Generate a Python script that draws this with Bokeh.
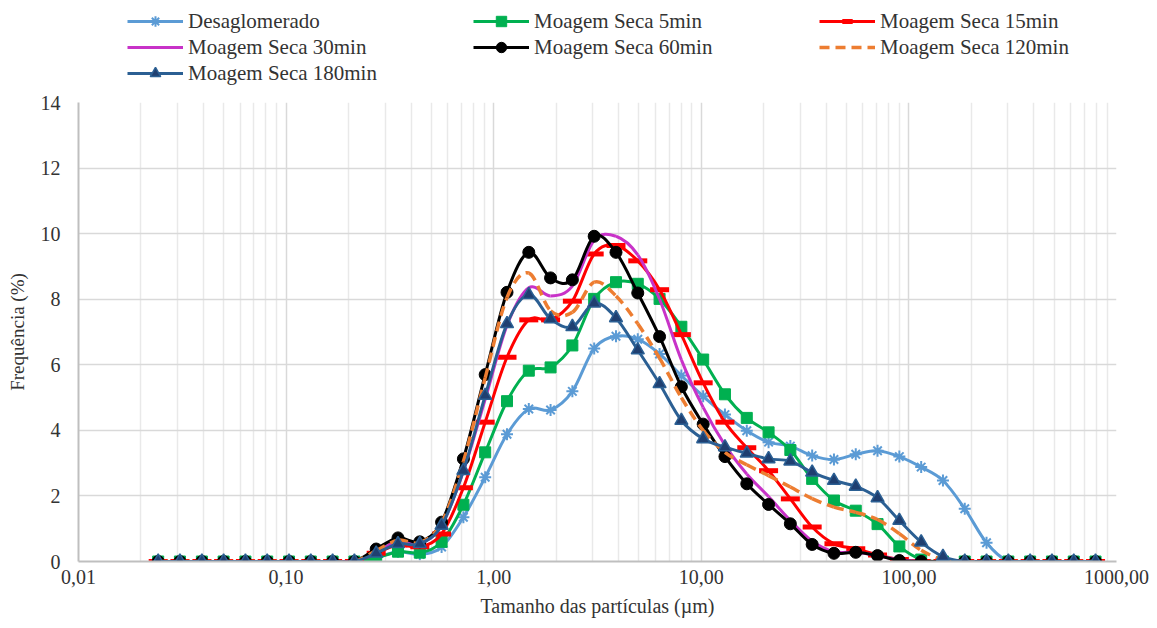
import numpy as np
from bokeh.plotting import figure
from bokeh.layouts import column
from bokeh.models import (Legend, LegendItem, FixedTicker, SingleIntervalTicker,
                          Range1d, CustomJSTickFormatter)
from bokeh.embed import file_html
from bokeh.resources import INLINE

# Particle size classes (µm)
sizes_um = [0.0242, 0.0308, 0.0393, 0.0500, 0.0637, 0.0811, 0.1033, 0.1315, 0.1675, 0.2133,
            0.2716, 0.3459, 0.4406, 0.5610, 0.7145, 0.9099, 1.159, 1.476, 1.879, 2.393,
            3.048, 3.882, 4.943, 6.295, 8.017, 10.21, 13.00, 16.56, 21.09, 26.85,
            34.20, 43.55, 55.46, 70.63, 89.95, 114.6, 145.9, 185.8, 236.6, 301.3,
            383.7, 488.7, 622.3, 792.5]

desaglomerado = [0, 0, 0, 0, 0, 0, 0, 0, 0, 0,
                 0.12, 0.30, 0.22, 0.44, 1.35, 2.57, 3.88, 4.65, 4.62, 5.19,
                 6.50, 6.87, 6.78, 6.33, 5.67, 5.04, 4.48, 3.99, 3.64, 3.52,
                 3.23, 3.11, 3.27, 3.38, 3.20, 2.88, 2.47, 1.61, 0.57, 0,
                 0, 0, 0, 0]
seca_5 = [0, 0, 0, 0, 0, 0, 0, 0, 0, 0,
          0.10, 0.30, 0.27, 0.60, 1.73, 3.33, 4.89, 5.82, 5.92, 6.59,
          8.01, 8.52, 8.47, 8.01, 7.16, 6.16, 5.10, 4.38, 3.94, 3.40,
          2.52, 1.86, 1.55, 1.14, 0.46, 0.06, 0, 0, 0, 0,
          0, 0, 0, 0]
seca_15 = [0, 0, 0, 0, 0, 0, 0, 0, 0, 0,
           0.25, 0.50, 0.45, 0.84, 2.25, 4.25, 6.23, 7.37, 7.37, 7.94,
           9.38, 9.64, 9.17, 8.29, 6.92, 5.45, 4.25, 3.47, 2.77, 1.91,
           1.05, 0.54, 0.39, 0.20, 0.06, 0, 0, 0, 0, 0,
           0, 0, 0, 0]
seca_30 = [0, 0, 0, 0, 0, 0, 0, 0, 0, 0,
           0.30, 0.60, 0.55, 1.10, 2.75, 4.95, 7.20, 8.35, 8.10, 8.40,
           9.80, 9.92, 9.35, 8.00, 6.15, 4.70, 3.55, 2.67, 1.98, 1.25,
           0.62, 0.30, 0.28, 0.18, 0.05, 0, 0, 0, 0, 0,
           0, 0, 0, 0]
seca_60 = [0, 0, 0, 0, 0, 0, 0, 0, 0, 0,
           0.38, 0.72, 0.60, 1.20, 3.13, 5.70, 8.21, 9.43, 8.65, 8.59,
           9.92, 9.43, 8.19, 6.86, 5.33, 4.19, 3.20, 2.37, 1.74, 1.15,
           0.52, 0.25, 0.28, 0.18, 0.03, 0, 0, 0, 0, 0,
           0, 0, 0, 0]
seca_120 = [0, 0, 0, 0, 0, 0, 0, 0, 0, 0,
            0.33, 0.65, 0.58, 1.18, 3.05, 5.60, 8.05, 8.80, 7.65, 7.60,
            8.52, 8.10, 7.25, 6.20, 5.00, 4.00, 3.33, 2.95, 2.62, 2.27,
            1.92, 1.66, 1.50, 1.28, 0.85, 0.34, 0.06, 0, 0, 0,
            0, 0, 0, 0]
seca_180 = [0, 0, 0, 0, 0, 0, 0, 0, 0, 0,
            0.25, 0.54, 0.54, 1.10, 2.77, 5.06, 7.25, 8.14, 7.40, 7.16,
            7.88, 7.43, 6.45, 5.42, 4.30, 3.74, 3.49, 3.30, 3.13, 3.06,
            2.72, 2.47, 2.29, 1.94, 1.25, 0.59, 0.15, 0, 0, 0,
            0, 0, 0, 0]

x_ticks = [0.01, 0.1, 1, 10, 100, 1000]
y_ticks_interval = 2

FONT = "Liberation Serif"
TXT = "#333333"

p = figure(width=1157, height=538, x_axis_type="log",
           x_range=Range1d(0.01, 1000), y_range=Range1d(0, 14),
           output_backend="svg", toolbar_location=None,
           min_border_left=78, min_border_right=41,
           min_border_top=12, min_border_bottom=67)
p.outline_line_color = None
p.background_fill_color = "white"
p.border_fill_color = "white"

minor = [k * 10.0 ** e for e in range(-2, 3) for k in range(2, 10)]
p.xaxis.ticker = FixedTicker(ticks=x_ticks, minor_ticks=minor)
p.xaxis.formatter = CustomJSTickFormatter(code="return tick.toFixed(2).replace('.', ',');")
p.yaxis.ticker = SingleIntervalTicker(interval=y_ticks_interval)

for ax in (p.xaxis[0], p.yaxis[0]):
    ax.major_tick_line_color = None
    ax.minor_tick_line_color = None
    ax.major_tick_in = 0
    ax.major_tick_out = 0
    ax.minor_tick_in = 0
    ax.minor_tick_out = 0
    ax.axis_line_color = "#BFBFBF"
    ax.axis_line_width = 2
    ax.major_label_text_font = FONT
    ax.major_label_text_font_size = "20px"
    ax.major_label_text_color = TXT
    ax.axis_label_text_font = FONT
    ax.axis_label_text_font_size = "20px"
    ax.axis_label_text_font_style = "normal"
    ax.axis_label_text_color = TXT

p.xaxis.axis_label = "Tamanho das partículas (µm)"
p.yaxis.axis_label = "Frequência (%)"
p.yaxis.axis_label_text_font_size = "19px"
p.xaxis.major_label_standoff = 8
p.xaxis.axis_label_standoff = 8
p.yaxis.major_label_standoff = 18
p.yaxis.axis_label_standoff = 10

p.xgrid.grid_line_color = "#D9D9D9"
p.xgrid.grid_line_width = 1.5
p.xgrid.minor_grid_line_color = "#E9E9E9"
p.xgrid.minor_grid_line_width = 1.5
p.ygrid.grid_line_color = "#D9D9D9"
p.ygrid.grid_line_width = 1.5


def smooth(xs, ys):
    lx = np.log10(np.asarray(xs, dtype=float))
    y = np.asarray(ys, dtype=float)
    n = len(lx)
    out = {k: [] for k in ("x0", "y0", "x1", "y1", "cx0", "cy0", "cx1", "cy1")}
    for i in range(n - 1):
        a = max(i - 1, 0)
        b = min(i + 2, n - 1)
        out["x0"].append(10 ** lx[i]); out["y0"].append(y[i])
        out["x1"].append(10 ** lx[i + 1]); out["y1"].append(y[i + 1])
        out["cx0"].append(10 ** (lx[i] + (lx[i + 1] - lx[a]) / 6))
        out["cy0"].append(y[i] + (y[i + 1] - y[a]) / 6)
        out["cx1"].append(10 ** (lx[i + 1] - (lx[b] - lx[i]) / 6))
        out["cy1"].append(y[i + 1] - (y[b] - y[i]) / 6)
    return out


series = [
    ("Desaglomerado", desaglomerado, "#5B9BD5", None,
     dict(marker="asterisk", size=12, line_color="#5B9BD5", line_width=2)),
    ("Moagem Seca 5min", seca_5, "#00B050", None,
     dict(marker="square", size=11, fill_color="#00B050", line_color="#00B050")),
    ("Moagem Seca 15min", seca_15, "#FF0000", None,
     dict(marker="dash", size=19, line_color="#FF0000", line_width=5)),
    ("Moagem Seca 30min", seca_30, "#C832C8", None, None),
    ("Moagem Seca 60min", seca_60, "#000000", None,
     dict(marker="circle", size=12, fill_color="#000000", line_color="#000000")),
    ("Moagem Seca 120min", seca_120, "#ED7D31", "10 6", None),
    ("Moagem Seca 180min", seca_180, "#2B5F93", None,
     dict(marker="triangle", size=13, fill_color="#1F3F70", line_color="#2B5F93", line_width=1.5)),
]

# Legend strip: a separate figure above the chart (its range keeps the
# series themselves out of view, they only feed the legend glyphs)
top = figure(width=1157, height=90, x_range=Range1d(2000, 3000), y_range=Range1d(0, 1),
             output_backend="svg", toolbar_location=None,
             min_border_left=0, min_border_right=0, min_border_top=0, min_border_bottom=0)
top.axis.visible = False
top.grid.visible = False
top.outline_line_color = None
top.border_fill_color = "white"

legend_items = {}
for name, vals, color, dash, mk in series:
    seg = smooth(sizes_um, vals)
    kw = dict(line_color=color, line_width=3)
    if dash:
        kw["line_dash"] = dash
        kw["line_width"] = 3.5
    p.bezier(**seg, **kw)
    if mk:
        p.scatter(x=sizes_um, y=vals, **mk)
    proxy = [top.line(x=sizes_um, y=vals, **kw)]
    if mk:
        proxy.append(top.scatter(x=sizes_um, y=vals, **mk))
    legend_items[name] = proxy

columns = [
    (49, 4, ["Desaglomerado", "Moagem Seca 30min", "Moagem Seca 180min"]),
    (395, 30, ["Moagem Seca 5min", "Moagem Seca 60min"]),
    (741, 30, ["Moagem Seca 15min", "Moagem Seca 120min"]),
]
for lx_, ly_, names in columns:
    leg = Legend(items=[LegendItem(label=n, renderers=legend_items[n]) for n in names],
                 location=(lx_, ly_), orientation="vertical",
                 glyph_width=56, glyph_height=26, label_height=20, label_standoff=5,
                 spacing=0, padding=0, margin=0,
                 border_line_color=None, background_fill_alpha=0,
                 label_text_font=FONT, label_text_font_size="21px",
                 label_text_color=TXT)
    top.add_layout(leg, "center")

layout = column(top, p, spacing=0)
open("out.html", "w").write(file_html(layout, INLINE))
